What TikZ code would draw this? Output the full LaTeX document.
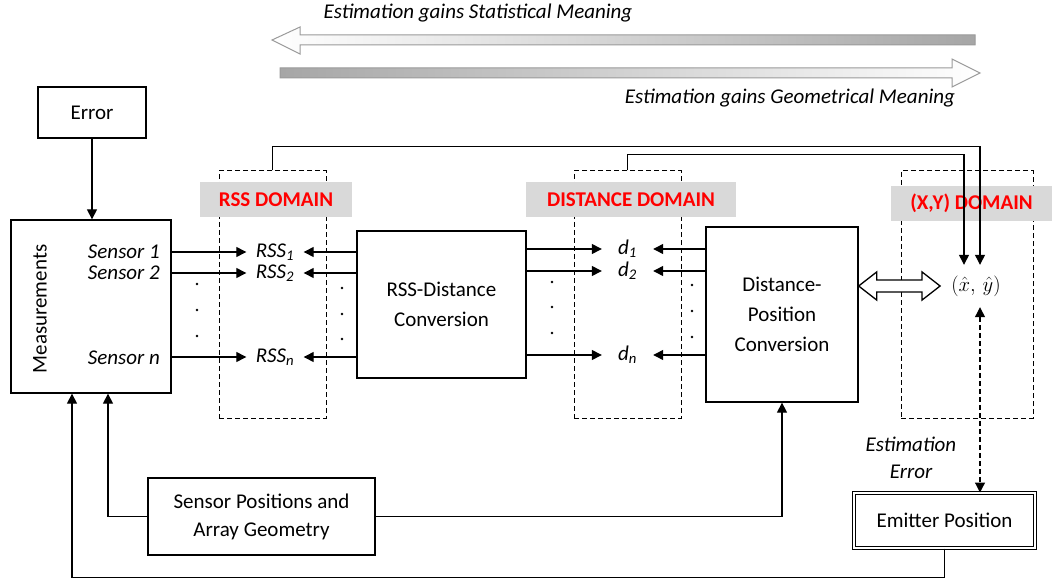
\documentclass[tikz,border=0pt]{standalone}
\usepackage{fontspec}
\setmainfont{Carlito}
\usetikzlibrary{arrows.meta,calc}
\definecolor{domgray}{HTML}{D9D9D9}
\definecolor{arrgray}{HTML}{9A9A9A}
\begin{document}
\begin{tikzpicture}[x=1pt,y=-1pt,
  font=\fontsize{21}{30}\selectfont,
  box/.style={draw, line width=1.3pt, align=center, inner sep=0pt},
  arr/.style={-{Triangle[length=10pt,width=10pt]}, line width=1.3pt},
  darr/.style={{Triangle[length=10pt,width=10pt]}-{Triangle[length=10pt,width=10pt]}, line width=1.2pt, dash pattern=on 5pt off 3pt},
  dbox/.style={draw, dash pattern=on 5pt off 3pt, line width=1pt, inner sep=0pt},
  dom/.style={fill=domgray, text=red, font=\fontsize{21}{25}\selectfont\bfseries, inner sep=0pt},
  lbl/.style={font=\fontsize{21}{27}\selectfont\itshape, inner sep=0pt},
  dotn/.style={circle, fill, inner sep=0pt, minimum size=2.6pt},
  hollow/.style={draw, line width=1.3pt, fill=white},
  grad/.style={draw=arrgray, line width=1pt}]
\useasboundingbox (0,0) rectangle (1052,580);

% top gradient arrows
\draw[grad, left color=white, right color=gray!70] (272,40) -- (300,27) -- (300,35) -- (975,35) -- (975,45) -- (300,45) -- (300,54) -- cycle;
\draw[grad, left color=gray!70, right color=white] (280,68) -- (952,68) -- (952,59) -- (980,73) -- (952,87) -- (952,78) -- (280,78) -- cycle;
\node[lbl] (t1) at (478,13) {Estimation gains Statistical Meaning};
\node[lbl] (t2) at (790,98) {Estimation gains Geometrical Meaning};

% dashed domain boxes
\node[dbox, minimum width=107, minimum height=247] (rssdom) at (272.5,294.5) {};
\node[dbox, minimum width=107, minimum height=247] (distdom) at (627.5,294.5) {};
\node[dbox, minimum width=132, minimum height=247] (xydom) at (967,294.5) {};

% domain labels
\node[dom, minimum width=152, minimum height=35] (rsslab) at (276,199.5) {RSS DOMAIN};
\node[dom, minimum width=210, minimum height=35] (distlab) at (631,199.5) {DISTANCE DOMAIN};
\node[dom, minimum width=161, minimum height=35] (xylab) at (971.5,203.5) {(X,Y) DOMAIN};

% main boxes
\node[box, minimum width=108, minimum height=51] (err) at (92,112.5) {Error};
\node[box, minimum width=160, minimum height=173] (meas) at (91,306.5) {};
\node[rotate=90, inner sep=0pt] (measl) at (40,309) {Measurements};
\node[box, minimum width=169, minimum height=147] (rd) at (441.5,304.5) {RSS-Distance\\Conversion};
\node[box, minimum width=152, minimum height=175] (dp) at (782,314.5) {Distance-\\Position\\Conversion};
\node[box, minimum width=227, minimum height=77, font=\fontsize{21}{28}\selectfont] (sp) at (261.5,516.5) {Sensor Positions and\\Array Geometry};
\node[draw, double, double distance=2pt, line width=1pt, minimum width=181, minimum height=55, inner sep=0pt] (em) at (944.5,520.5) {Emitter Position};

% sensor labels
\node[lbl, anchor=east] (s1) at (160,252) {Sensor 1};
\node[lbl, anchor=east] (s2) at (160,273) {Sensor 2};
\node[lbl, anchor=east] (sn) at (160,358) {Sensor n};

% RSS labels
\node[lbl, minimum width=57] (r1) at (275,252) {RSS\textsubscript{1}};
\node[lbl, minimum width=57] (r2) at (275,273) {RSS\textsubscript{2}};
\node[lbl, minimum width=57] (rn) at (275,357) {RSS\textsubscript{\textit{n}}};

% d labels
\node[lbl, minimum width=51] (d1) at (627.5,249) {d\textsubscript{1}};
\node[lbl, minimum width=51] (d2) at (627.5,271) {d\textsubscript{2}};
\node[lbl, minimum width=51] (dn) at (627.5,355) {d\textsubscript{\textit{n}}};

% estimate
\node[inner sep=0pt, minimum height=42, minimum width=48] (xy) at (976,286) {$(\hat{x},\,\hat{y})$};
\node[lbl, align=center] (ee) at (911,458) {Estimation\\Error};

% dots
\foreach \n/\x/\y in {a1/197/284, a2/197/310, a3/197/336,
                      b1/342/288, b2/342/314, b3/342/339,
                      c1/552/282, c2/552/307, c3/552/333,
                      e1/692/285, e2/692/311, e3/692/337}
  \node[dotn] (dot\n) at (\x,\y) {};

% connectors
\draw[arr] (err.south) -- (err.south |- meas.north);
\foreach \s/\r in {s1/r1, s2/r2, sn/rn}
  \draw[arr] (meas.east |- \r) -- (\r.west);
\foreach \r in {r1, r2, rn}
  \draw[arr] (rd.west |- \r) -- (\r.east);
\foreach \d in {d1, d2, dn}
  \draw[arr] (rd.east |- \d) -- (\d.west);
\foreach \d in {d1, d2, dn}
  \draw[arr] (dp.west |- \d) -- (\d.east);

\draw[arr] (rssdom.north) -- ++(0,-24) -| ([xshift=4pt]xy.north);
\draw[arr] (distdom.north) -- ++(0,-16) -| ([xshift=-12pt]xy.north);

% hollow double arrow
\coordinate (hl) at (dp.east |- xy);
\coordinate (hr) at ([xshift=-11pt]xy.west);
\draw[hollow] (hl) -- ++(18,-14) -- ++(0,8) -- ($(hr)+(-18,-6)$) -- ++(0,-8) -- (hr)
  -- ++(-18,14) -- ++(0,-8) -- ($(hl)+(18,6)$) -- ++(0,8) -- cycle;

\draw[darr] ([xshift=4pt]xy.south) -- ([xshift=4pt]xy.south |- em.north);

\draw[arr] (sp.west) -| ([xshift=17pt]meas.south);
\draw[arr] (sp.east) -| (dp.south);
\draw[arr] (em.south) -- ++(0,29) -| ([xshift=-19pt]meas.south);
\end{tikzpicture}
\end{document}
